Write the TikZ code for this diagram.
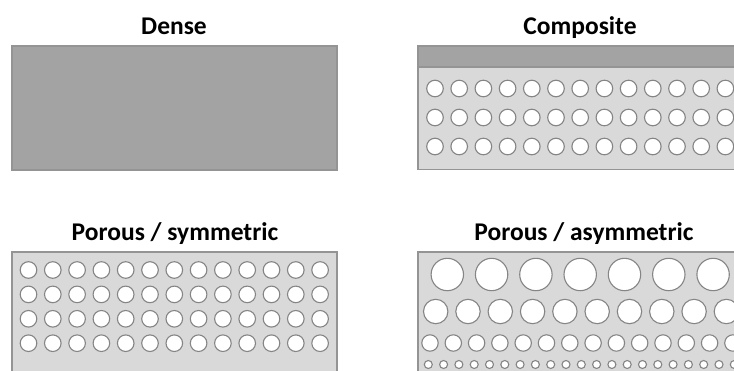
\documentclass[tikz,border=0pt]{standalone}
\usepackage{fontspec}
\setmainfont{Carlito}
\usepackage{tikz}

\definecolor{filmdark}{HTML}{A3A3A3}
\definecolor{filmlight}{HTML}{D9D9D9}
\definecolor{filmedge}{HTML}{949494}
\definecolor{poreedge}{HTML}{858585}

\tikzset{
  title/.style={font=\fontsize{25.5}{30}\selectfont\bfseries, anchor=base, inner sep=0pt},
  densefilm/.style={fill=filmdark, draw=filmedge, line width=1.2pt},
  porefilm/.style={fill=filmlight, draw=filmedge, line width=1.2pt},
  pore/.style={fill=white, draw=poreedge, line width=1.1pt}
}

\begin{document}
\begin{tikzpicture}[x=1pt, y=-1pt]
    \useasboundingbox (0,0) rectangle (734,370);
    \clip (0,0) rectangle (734,370);
    % titles
    \node[title] (dense) at (174,34.5) {Dense};
    \node[title] (composite) at (580,34.5) {Composite};
    \node[title] (symm) at (175,240.5) {Porous / symmetric};
    \node[title] (asymm) at (584,240.5) {Porous / asymmetric};
    % dense film
    \draw[densefilm] (12,46) rectangle (337,170);
    % composite film
    \draw[porefilm] (418,46) rectangle (760,169.5);
    \draw[densefilm] (418,46) rectangle (760,67);
    \foreach \y in {88.5,117.5,146.5}
        \foreach \i in {0,...,12}
            \draw[pore] (435+24.2*\i,\y) circle[radius=8.3pt];
    % porous / symmetric
    \draw[porefilm] (12,252) rectangle (337,400);
    \foreach \j in {0,...,3}
        \foreach \i in {0,...,12}
            \draw[pore] (28.5+24.3*\i,270+24.4*\j) circle[radius=8.3pt];
    % porous / asymmetric
    \draw[porefilm] (418,252) rectangle (760,400);
    \foreach \i in {0,...,6}
        \draw[pore] (447.3+44.3*\i,274.5) circle[radius=16.2pt];
    \foreach \i in {0,...,9}
        \draw[pore] (435.7+32.3*\i,311.5) circle[radius=12.2pt];
    \foreach \i in {0,...,13}
        \draw[pore] (430+23.3*\i,343) circle[radius=8.2pt];
    \foreach \i in {0,...,20}
        \draw[pore] (428.3+15.3*\i,364.5) circle[radius=4pt];
\end{tikzpicture}
\end{document}
